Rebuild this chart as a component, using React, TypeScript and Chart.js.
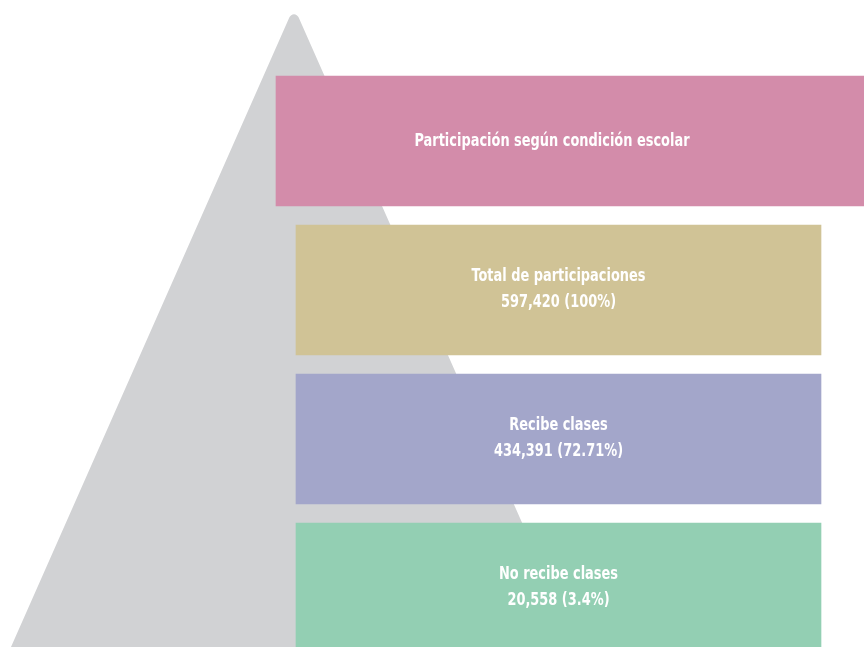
import React, { useEffect, useRef } from "react";
import { Chart, registerables } from "chart.js";

Chart.register(...registerables);

// ---- data ----
const categories = [
  "Participación según condición escolar",
  "Total de participaciones",
  "Recibe clases",
  "No recibe clases",
];
const counts: (number | null)[] = [null, 597420, 434391, 20558];
const percents: (string | null)[] = [null, "100%", "72.71%", "3.4%"];
const colors = ["#D38CAA", "#D0C396", "#A3A6CA", "#93CFB3"];

// ---- layout (styles, not data) ----
const W = 864;
const H = 647;
const barStart = [276, 296, 296, 296];
const barEnd = [864, 821, 821, 821];
const labelShift = [-18, 0, 0, 0];
const PYRAMID_COLOR = "#D1D2D4";
const FONT = 'bold 17px "Liberation Sans Narrow", "DejaVu Sans Condensed", "Arial Narrow", sans-serif';
const TEXT_SQUEEZE = 0.846;

const fmt = (n: number) => n.toLocaleString("en-US");

const pyramidPlugin = {
  id: "pyramid",
  beforeDatasetsDraw(chart: any) {
    const { ctx } = chart;
    const xs = chart.scales.x;
    const apexX = xs.getPixelForValue(294);
    const leftX = xs.getPixelForValue(11);
    const rightX = xs.getPixelForValue(577);
    const apexY = 7;
    const baseY = chart.height;
    ctx.save();
    ctx.fillStyle = PYRAMID_COLOR;
    ctx.beginPath();
    ctx.moveTo(leftX, baseY);
    ctx.arcTo(apexX, apexY, rightX, baseY, 5);
    ctx.lineTo(rightX, baseY);
    ctx.closePath();
    ctx.fill();
    ctx.restore();
  },
};

const labelPlugin = {
  id: "barLabels",
  afterDatasetsDraw(chart: any) {
    const { ctx } = chart;
    const meta = chart.getDatasetMeta(0);
    ctx.save();
    ctx.fillStyle = "#FFFFFF";
    ctx.font = FONT;
    ctx.textAlign = "center";
    ctx.textBaseline = "middle";
    meta.data.forEach((el: any, i: number) => {
      const cx = (el.x + el.base) / 2 + labelShift[i];
      const cy = el.y;
      const lines: string[] = [categories[i]];
      if (counts[i] != null) lines.push(`${fmt(counts[i] as number)} (${percents[i]})`);
      const lh = 26;
      const startY = cy - ((lines.length - 1) * lh) / 2 + (lines.length > 1 ? 0 : 1);
      lines.forEach((t, k) => {
        ctx.save();
        ctx.translate(cx, startY + k * lh);
        ctx.scale(TEXT_SQUEEZE, 1);
        ctx.fillText(t, 0, 0);
        ctx.restore();
      });
    });
    ctx.restore();
  },
};

export default function App() {
  const ref = useRef<HTMLCanvasElement>(null);
  useEffect(() => {
    document.body.style.margin = "0";
    document.body.style.overflow = "hidden";
    const chart = new Chart(ref.current!, {
      type: "bar",
      data: {
        labels: categories,
        datasets: [
          {
            data: categories.map((_, i) => [barStart[i], barEnd[i]]) as any,
            backgroundColor: colors,
            borderWidth: 0,
            barThickness: 130,
            clip: false as any,
          },
        ],
      },
      options: {
        indexAxis: "y",
        responsive: false,
        animation: false,
        events: [],
        layout: { padding: { top: 141, bottom: 59, left: 0, right: 0 } },
        plugins: { legend: { display: false }, tooltip: { enabled: false } },
        scales: {
          x: { type: "linear", min: 0, max: W, display: false },
          y: { type: "category", offset: false, display: false },
        },
      },
      plugins: [pyramidPlugin, labelPlugin],
    });
    return () => chart.destroy();
  }, []);
  return (
    <div style={{ width: W, height: H }}>
      <canvas ref={ref} width={W} height={H} style={{ display: "block" }} />
    </div>
  );
}
